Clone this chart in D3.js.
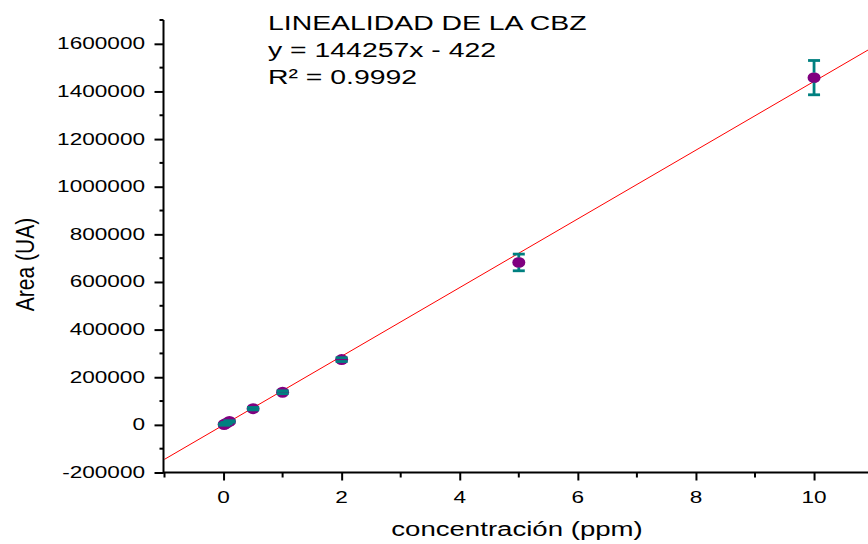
<!DOCTYPE html>
<html><head><meta charset="utf-8">
<script src="https://cdn.jsdelivr.net/npm/d3@7"></script>
<style>body{margin:0;background:#fff;overflow:hidden}svg{display:block}</style>
</head><body>
<script>
const conc = [0.01, 0.05, 0.1, 0.5, 1, 2, 5, 10];
const area = [1500, 7000, 14500, 68000, 137000, 274000, 682000, 1458000];
const errs = [3000, 3000, 3000, 5000, 6000, 8000, 35000, 72000];
const xTicks = [0, 2, 4, 6, 8, 10];
const yTicks = [-200000, 0, 200000, 400000, 600000, 800000, 1000000, 1200000, 1400000, 1600000];
const slope = 144257, intercept = -422;
const annot = ["LINEALIDAD DE LA CBZ", "y = 144257x - 422", "R\u00b2 = 0.9992"];

const W = 868, H = 544;
const svg = d3.select("body").append("svg").attr("width", W).attr("height", H);
const font = "Liberation Sans, Arial, sans-serif";
const SX = 1.42;
const fmt = d => String(d);

const x = d3.scaleLinear().domain([-1, 11]).range([164.5, 873.1]);
const y = d3.scaleLinear().domain([-200000, 1700000]).range([472.5, 20]);

// fit line
svg.append("line")
  .attr("x1", x(-1)).attr("y1", y(slope * -1 + intercept))
  .attr("x2", x(11)).attr("y2", y(slope * 11 + intercept))
  .attr("stroke", "#ff0000").attr("stroke-width", 1);

// x axis
const yMinor = d3.range(-100000, 1700001, 200000);
const xMinor = d3.range(-1, 12, 2);
const ax = svg.append("g").attr("transform", `translate(0,${y(-200000)})`)
  .call(d3.axisBottom(x).tickValues(xTicks).tickFormat("").tickSize(8));
ax.select(".domain").attr("stroke-width", 2).attr("d", `M${x(-1)-1},0H${W+10}`);
ax.selectAll(".tick line").attr("stroke-width", 2);
ax.selectAll(".minor").data(xMinor).enter().append("line")
  .attr("x1", d => x(d)).attr("x2", d => x(d)).attr("y1", 0).attr("y2", 5)
  .attr("stroke", "#000").attr("stroke-width", 2);
svg.selectAll(".xl").data(xTicks).enter().append("text")
  .attr("transform", d => `translate(${x(d)},503) scale(1.37,1)`)
  .attr("text-anchor", "middle").attr("font-family", font).attr("font-size", 16.5)
  .text(fmt);

// y axis
const ay = svg.append("g").attr("transform", `translate(${x(-1) - 1},0)`)
  .call(d3.axisLeft(y).tickValues(yTicks).tickFormat("").tickSize(9));
ay.select(".domain").attr("stroke-width", 2).attr("d", `M0,${y(-200000)+1}V${y(1700000)}`);
ay.selectAll(".tick line").attr("stroke-width", 2);
ay.selectAll(".minor").data(yMinor).enter().append("line")
  .attr("x1", 0).attr("x2", -4).attr("y1", d => y(d)).attr("y2", d => y(d))
  .attr("stroke", "#000").attr("stroke-width", 2);
svg.selectAll(".yl").data(yTicks).enter().append("text")
  .attr("transform", d => `translate(145,${y(d) + 5.5}) scale(1.37,1)`)
  .attr("text-anchor", "end").attr("font-family", font).attr("font-size", 16.5)
  .text(fmt);

// points
const pts = conc.map((c, i) => ({c, a: area[i], e: errs[i]}));
svg.selectAll(".pt").data(pts).enter().append("ellipse")
  .attr("cx", d => x(d.c)).attr("cy", d => y(d.a)).attr("rx", 6.5).attr("ry", 5.5)
  .attr("fill", "#800080");
// error bars
const eb = svg.selectAll(".eb").data(pts).enter().append("g")
  .attr("stroke", "#008080").attr("stroke-width", 2.8);
eb.each(function(d) {
  const g = d3.select(this);
  const top = y(d.a + d.e), bot = y(d.a - d.e), cx = x(d.c), cy = y(d.a);
  if (cy - 5 > top) g.append("line").attr("x1", cx).attr("x2", cx).attr("y1", top).attr("y2", cy - 5);
  if (cy + 5 < bot) g.append("line").attr("x1", cx).attr("x2", cx).attr("y1", cy + 5).attr("y2", bot);
  g.append("line").attr("x1", cx - 6).attr("x2", cx + 6).attr("y1", top).attr("y2", top);
  g.append("line").attr("x1", cx - 6).attr("x2", cx + 6).attr("y1", bot).attr("y2", bot);
});

// annotation
svg.selectAll(".ann").data(annot).enter().append("text")
  .attr("transform", (d, i) => `translate(268,${29.5 + i * 27}) scale(${SX},1)`)
  .attr("font-family", font).attr("font-size", 20).attr("fill", "#000").text(d => d);

// axis titles
svg.append("text").attr("transform", "translate(517,536) scale(1.38,1)").attr("text-anchor", "middle")
  .attr("font-family", font).attr("font-size", 20).text("concentración (ppm)");
svg.append("text").attr("transform", `translate(34,264.5) scale(1.25,1) rotate(-90)`).attr("text-anchor", "middle")
  .attr("font-family", font).attr("font-size", 21).text("Area (UA)");
</script>
</body></html>
